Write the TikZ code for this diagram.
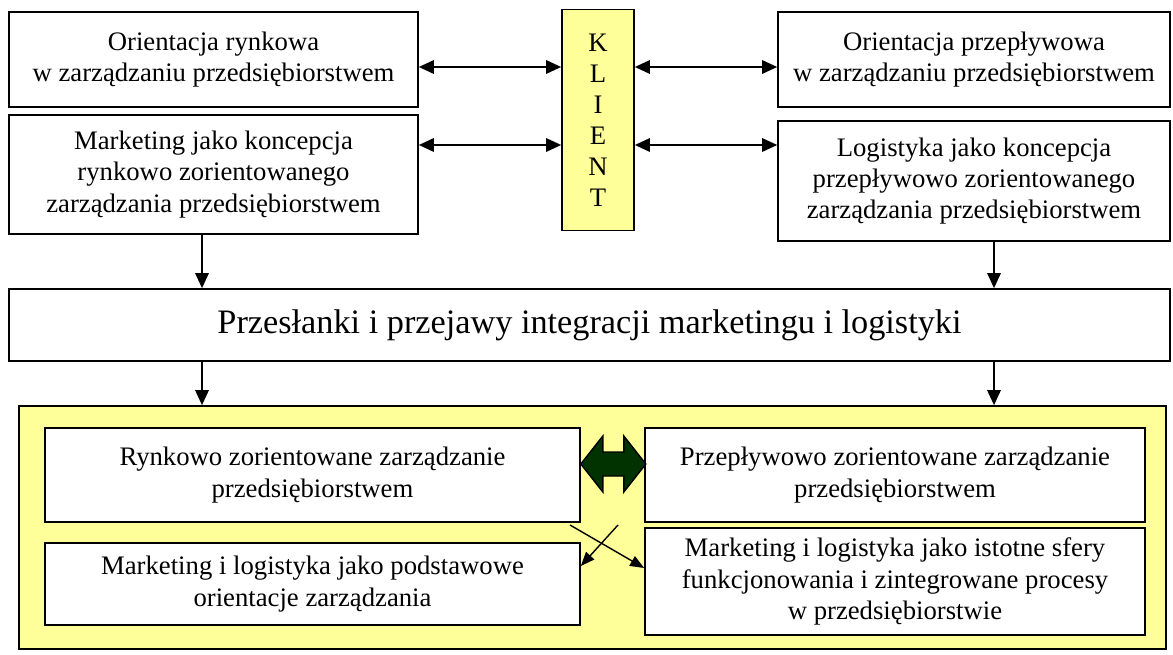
\documentclass[tikz,border=0pt]{standalone}
\usepackage{fontspec}
\setmainfont{Liberation Serif}
\usetikzlibrary{arrows.meta}
\definecolor{paleyellow}{RGB}{255,255,153}
\definecolor{darkgreen}{RGB}{0,51,0}
\begin{document}
\begin{tikzpicture}[x=0.02cm,y=-0.02cm]
\tikzstyle{box}=[draw,line width=1pt,fill=white,align=center,inner sep=0pt,font=\fontsize{15.2}{17.8}\selectfont]
\tikzstyle{twotips}=[{Triangle[length=0.3cm,width=0.27cm]}-{Triangle[length=0.3cm,width=0.27cm]},line width=0.9pt]
\tikzstyle{onetip}=[-{Triangle[length=0.3cm,width=0.27cm]},line width=0.9pt]
\tikzstyle{smalltip}=[-{Triangle[length=0.28cm,width=0.22cm]},line width=0.8pt]
\useasboundingbox (0,0) rectangle (1173,655);
% top row
\node[style={box,minimum width=8.18cm,minimum height=1.9cm}] (A1) at (213.5,59.5) {Orientacja rynkowa\\w zarządzaniu przedsiębiorstwem};
\node[style={box,minimum width=8.18cm,minimum height=2.38cm}] (A2) at (213.5,174.5) {Marketing jako koncepcja\\rynkowo zorientowanego\\zarządzania przedsiębiorstwem};
\node[style={box,fill=paleyellow,minimum width=1.44cm,minimum height=4.42cm,font=\fontsize{15.2}{17.6}\selectfont}] (K) at (598,120) {K\\L\\I\\E\\N\\T};
\node[style={box,minimum width=7.84cm,minimum height=1.9cm}] (B1) at (974,59.5) {Orientacja przepływowa\\w zarządzaniu przedsiębiorstwem};
\node[style={box,minimum width=7.84cm,minimum height=2.4cm}] (B2) at (974,181) {Logistyka jako koncepcja\\przepływowo zorientowanego\\zarządzania przedsiębiorstwem};
% middle
\node[style={box,minimum width=23.22cm,minimum height=1.44cm,font=\fontsize{19.5}{22}\selectfont}] (M) at (589.5,325) {Przesłanki i przejawy integracji marketingu i logistyki};
% bottom
\node[style={draw,line width=1pt,fill=paleyellow,minimum width=22.94cm,minimum height=4.86cm}] (Y) at (592.5,527.5) {};
\node[style={box,minimum width=10.7cm,minimum height=1.88cm}] (C1) at (312.5,475) {Rynkowo zorientowane zarządzanie\\przedsiębiorstwem};
\node[style={box,minimum width=10cm,minimum height=1.88cm}] (D1) at (895,475) {Przepływowo zorientowane zarządzanie\\przedsiębiorstwem};
\node[style={box,minimum width=10.7cm,minimum height=1.64cm}] (C2) at (312.5,584) {Marketing i logistyka jako podstawowe\\orientacje zarządzania};
\node[style={box,minimum width=10cm,minimum height=2.14cm}] (D2) at (895,581.5) {Marketing i logistyka jako istotne sfery\\funkcjonowania i zintegrowane procesy\\w przedsiębiorstwie};
\coordinate (r1) at (0,67);
\coordinate (r2) at (0,145);
\coordinate (la) at (202,0);
\coordinate (ra) at (994,0);
\coordinate (g) at (0,464);
\coordinate (x1) at (570,525);
\coordinate (x2) at (618,525);
\coordinate (c2in) at (0,566);
\coordinate (d2in) at (0,568);
\path[]
    (A1.east |- r1) [twotips] edge (K.west |- r1)
    (A2.east |- r2) [twotips] edge (K.west |- r2)
    (K.east |- r1) [twotips] edge (B1.west |- r1)
    (K.east |- r2) [twotips] edge (B2.west |- r2);
\path[]
    (A2.south -| la) [onetip] edge (M.north -| la)
    (B2.south -| ra) [onetip] edge (M.north -| ra)
    (M.south -| la) [onetip] edge (Y.north -| la)
    (M.south -| ra) [onetip] edge (Y.north -| ra);
\path[]
    (x1) [smalltip] edge (D2.west |- d2in)
    (x2) [smalltip] edge (C2.east |- c2in);
% green double arrow
\filldraw[fill=darkgreen,draw=black,line width=0.8pt] (C1.east |- g) -- ++(22,-28) -- ++(0,16) -- ++(21,0) -- ++(0,-16) -- ++(22,28) -- ++(-22,28) -- ++(0,-16) -- ++(-21,0) -- ++(0,16) -- cycle;
\end{tikzpicture}
\end{document}
